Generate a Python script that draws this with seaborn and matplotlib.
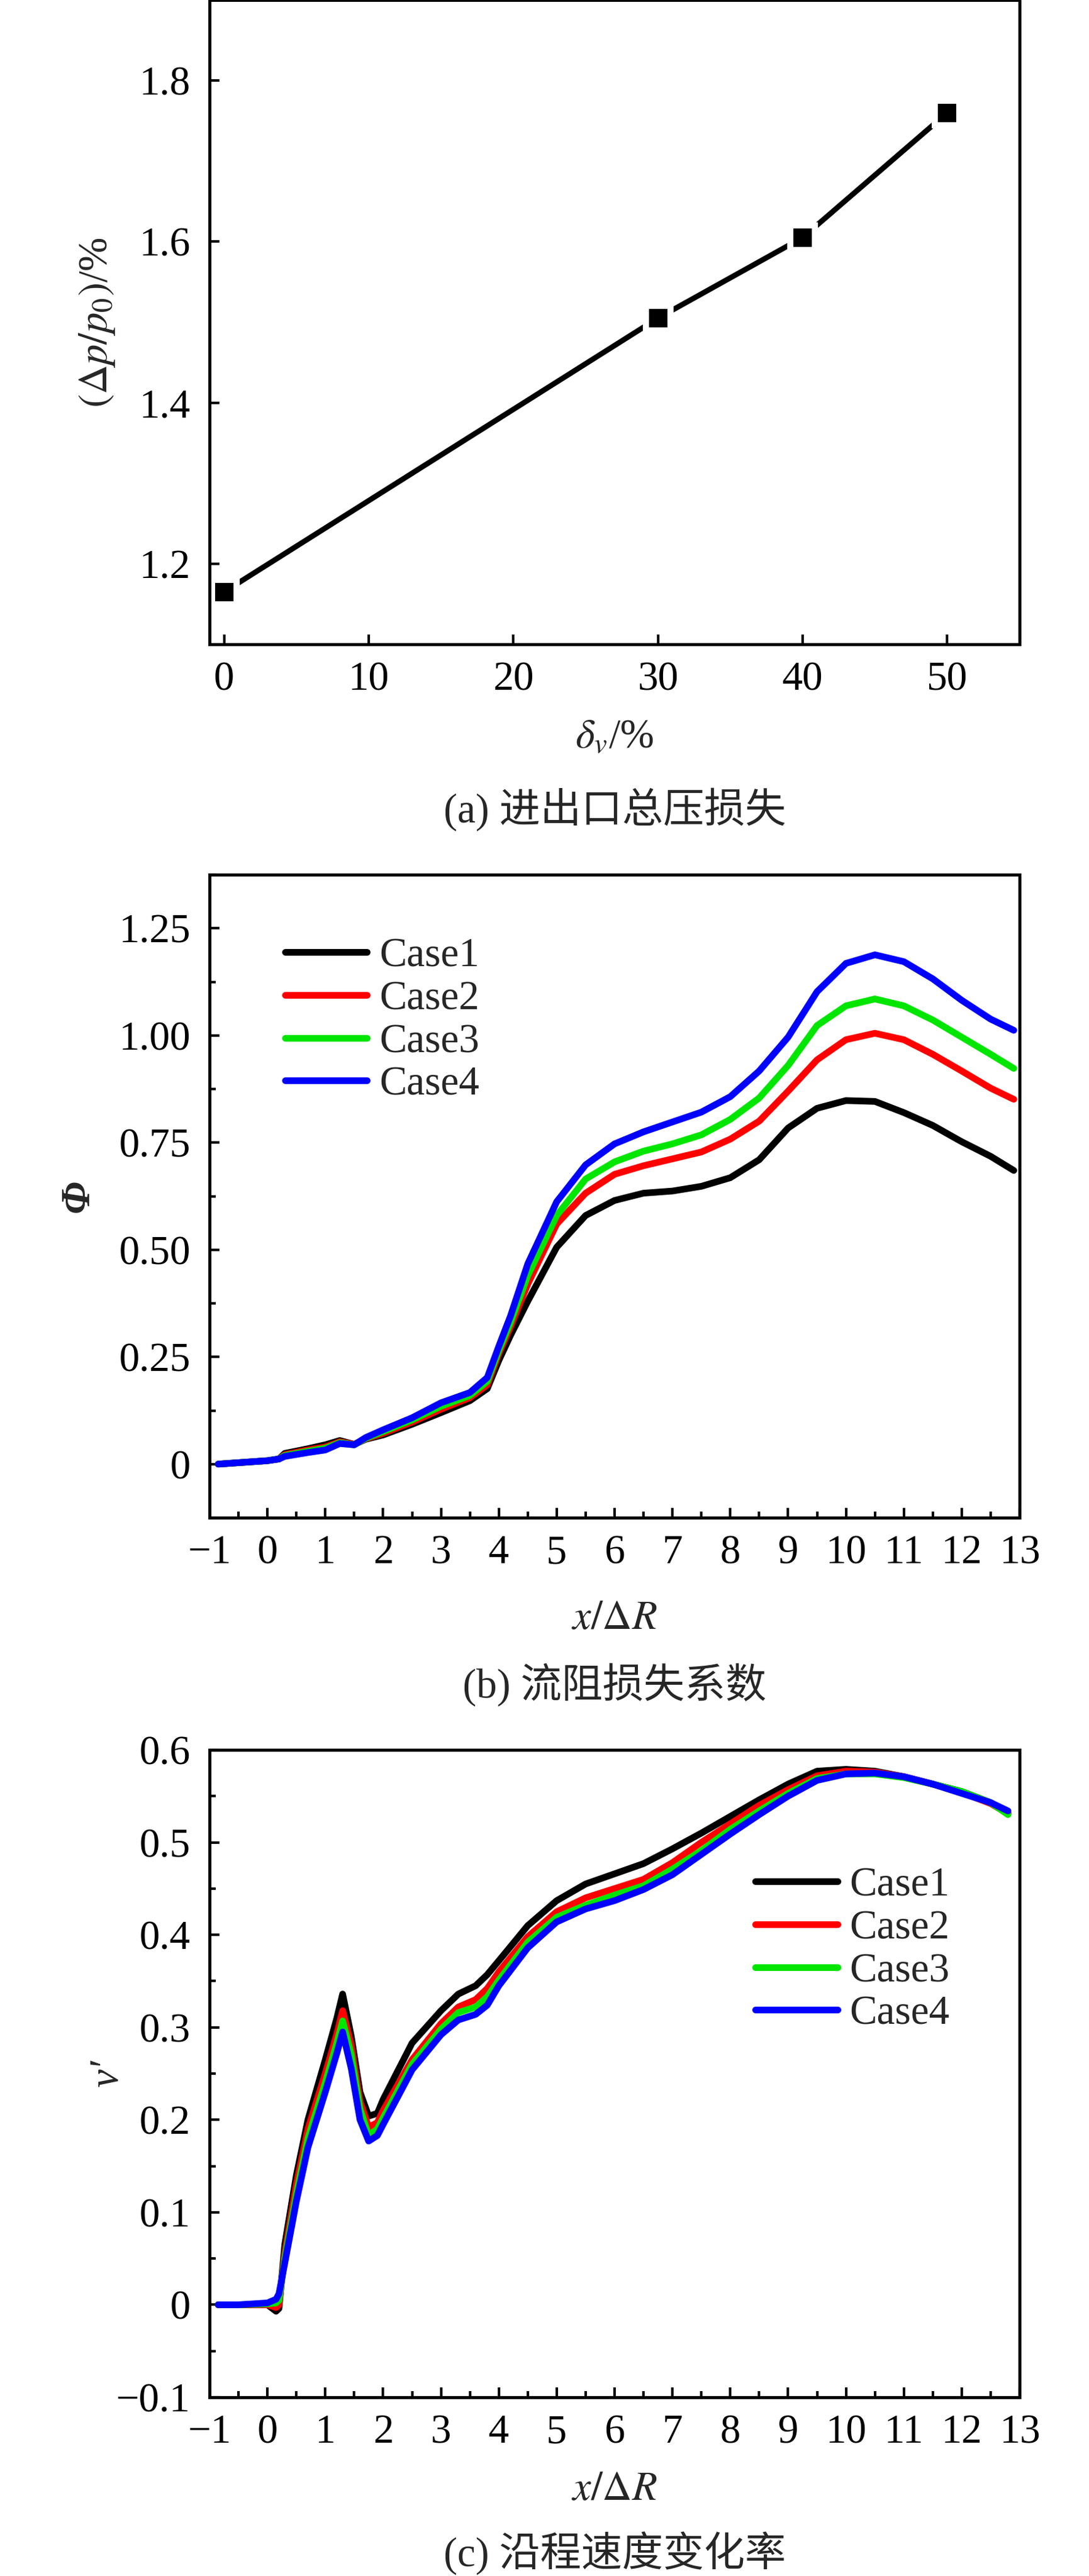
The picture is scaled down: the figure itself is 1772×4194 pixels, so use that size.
import matplotlib
matplotlib.use("Agg")
import matplotlib.pyplot as plt
import matplotlib.ticker as mticker
import seaborn as sns
import pandas as pd
import numpy as np

# (a) 进出口总压损失
delta_v = [0, 30, 40, 50]
dp_loss = [1.165, 1.505, 1.605, 1.76]

# (b) 流阻损失系数
xb = [-0.85, 0.0, 0.2, 0.3, 0.7, 1.0, 1.25, 1.5, 1.7, 2.0, 2.5, 3.0, 3.5, 3.8,
      4.0, 4.2, 4.5, 5.0, 5.5, 6.0, 6.5, 7.0, 7.5, 8.0, 8.5, 9.0, 9.5, 10.0,
      10.5, 11.0, 11.5, 12.0, 12.5, 12.9]
phi_case1 = [0, 0.008, 0.012, 0.025, 0.036, 0.045, 0.055, 0.046, 0.058, 0.068,
             0.093, 0.12, 0.148, 0.176, 0.242, 0.30, 0.38, 0.506, 0.58, 0.615,
             0.632, 0.637, 0.648, 0.668, 0.71, 0.784, 0.83, 0.848, 0.846, 0.82,
             0.79, 0.752, 0.718, 0.685]
phi_case2 = [0, 0.008, 0.012, 0.022, 0.033, 0.04, 0.052, 0.046, 0.059, 0.072,
             0.098, 0.128, 0.155, 0.185, 0.258, 0.32, 0.42, 0.56, 0.632, 0.676,
             0.696, 0.712, 0.728, 0.758, 0.80, 0.87, 0.943, 0.99, 1.005, 0.99,
             0.956, 0.917, 0.877, 0.851]
phi_case3 = [0, 0.008, 0.012, 0.02, 0.03, 0.037, 0.05, 0.045, 0.06, 0.076,
             0.103, 0.135, 0.16, 0.193, 0.265, 0.33, 0.44, 0.58, 0.665, 0.705,
             0.73, 0.747, 0.768, 0.804, 0.854, 0.93, 1.023, 1.069, 1.085, 1.069,
             1.036, 0.996, 0.956, 0.923]
phi_case4 = [0, 0.008, 0.012, 0.018, 0.027, 0.033, 0.048, 0.045, 0.062, 0.08,
             0.108, 0.143, 0.167, 0.202, 0.275, 0.345, 0.467, 0.612, 0.698, 0.747,
             0.775, 0.798, 0.821, 0.857, 0.917, 0.996, 1.102, 1.168, 1.188, 1.172,
             1.132, 1.082, 1.038, 1.012]

# (c) 沿程速度变化率
xc = [-0.85, -0.5, 0.0, 0.15, 0.2, 0.3, 0.5, 0.7, 1.0, 1.2, 1.3, 1.45, 1.6,
      1.75, 1.9, 2.0, 2.5, 3.0, 3.3, 3.6, 3.8, 4.0, 4.5, 5.0, 5.5, 6.0, 6.5,
      7.0, 7.5, 8.0, 8.5, 9.0, 9.5, 10.0, 10.5, 11.0, 11.5, 12.0, 12.5, 12.8]
v_case1 = [0, 0, 0.0, -0.007, -0.004, 0.065, 0.14, 0.2, 0.265, 0.31, 0.336,
           0.29, 0.23, 0.204, 0.207, 0.222, 0.283, 0.318, 0.336, 0.345, 0.357,
           0.372, 0.41, 0.437, 0.455, 0.466, 0.477, 0.493, 0.51, 0.528, 0.546,
           0.563, 0.577, 0.579, 0.577, 0.571, 0.563, 0.555, 0.543, 0.532]
v_case2 = [0, 0, 0.0, -0.003, 0.0, 0.055, 0.13, 0.19, 0.25, 0.293, 0.318,
           0.28, 0.22, 0.192, 0.197, 0.21, 0.265, 0.304, 0.322, 0.33, 0.342,
           0.36, 0.398, 0.425, 0.44, 0.45, 0.46, 0.478, 0.5, 0.52, 0.54,
           0.557, 0.572, 0.577, 0.576, 0.571, 0.563, 0.554, 0.542, 0.531]
v_case3 = [0, 0, 0.001, 0.002, 0.005, 0.05, 0.12, 0.18, 0.24, 0.283, 0.307,
           0.27, 0.212, 0.183, 0.19, 0.202, 0.26, 0.298, 0.316, 0.322, 0.333,
           0.351, 0.392, 0.419, 0.432, 0.443, 0.453, 0.471, 0.491, 0.514, 0.534,
           0.553, 0.569, 0.574, 0.574, 0.57, 0.563, 0.555, 0.543, 0.53]
v_case4 = [0, 0, 0.002, 0.006, 0.012, 0.045, 0.112, 0.17, 0.23, 0.272, 0.295,
           0.255, 0.2, 0.177, 0.183, 0.195, 0.254, 0.292, 0.308, 0.314, 0.324,
           0.345, 0.386, 0.414, 0.428, 0.437, 0.449, 0.465, 0.487, 0.509, 0.53,
           0.55, 0.567, 0.574, 0.575, 0.571, 0.563, 0.553, 0.543, 0.534]

case_names = ["Case1", "Case2", "Case3", "Case4"]
case_colors = ["#000000", "#ff0000", "#00e600", "#0000ff"]

sns.set_theme(style="ticks")
plt.rcParams["font.family"] = ["Liberation Serif", "Noto Sans CJK SC", "DejaVu Sans"]
plt.rcParams["mathtext.fontset"] = "stix"
plt.rcParams["axes.linewidth"] = 1.2
plt.rcParams["axes.unicode_minus"] = True

FS = 16
LW = 2.6


def long_df(x, series):
    parts = []
    for name, ys in zip(case_names, series):
        parts.append(pd.DataFrame({"x": x, "y": ys, "case": name}))
    return pd.concat(parts, ignore_index=True)


def style_axis(ax):
    for s in ax.spines.values():
        s.set_linewidth(1.2)
        s.set_color("black")
    ax.tick_params(which="both", direction="in", top=False, right=False,
                   width=1.0, colors="black")
    ax.tick_params(which="major", length=3.8, labelsize=FS)
    ax.tick_params(which="minor", length=2.4)
    ax.tick_params(axis="x", which="major", pad=6.5)
    ax.tick_params(axis="y", which="major", pad=7.5)
    ax.set_facecolor("white")


def place_labels(ax, xy, yx):
    ax.xaxis.label.set_va("center")
    ax.yaxis.label.set_va("center")
    ax.xaxis.set_label_coords(0.5, xy)
    ax.yaxis.set_label_coords(yx, 0.5)


def set_legend(ax, anchor):
    sns.move_legend(ax, "center left", bbox_to_anchor=anchor, title=None,
                    frameon=False, fontsize=FS, handlelength=2.0,
                    handletextpad=0.3, labelspacing=0.13, borderpad=0,
                    borderaxespad=0)
    for ln in ax.get_legend().get_lines():
        ln.set_linewidth(LW)


W, H = 1772, 4194
fig = plt.figure(figsize=(W / 300, H / 300), dpi=300)
fig.patch.set_facecolor("white")
left = 341 / W
width = 1318 / W
center_x = (341 + 659) / W

# ---- (a)
ax1 = fig.add_axes([left, 1 - 1049 / H, width, 1049 / H])
sns.lineplot(x=delta_v, y=dp_loss, ax=ax1, color="black", lw=2.1,
             marker="s", markersize=9.5, markeredgecolor="white",
             markeredgewidth=2.4)
ax1.set_xlim(-1, 55)
ax1.set_ylim(1.1, 1.9)
ax1.set_xticks([0, 10, 20, 30, 40, 50])
ax1.set_yticks([1.2, 1.4, 1.6, 1.8])
ax1.yaxis.set_major_formatter(mticker.FuncFormatter(lambda v, p: f"{v:.1f}"))
style_axis(ax1)
ax1.set_xlabel(r"$\delta_v$/%", fontsize=FS)
ax1.set_ylabel(r"$(\Delta p/p_0)$/%", fontsize=FS)
place_labels(ax1, -0.145, -0.139)
fig.text(center_x, 1 - 1318 / H, "(a) 进出口总压损失", ha="center", va="center",
         fontsize=FS)

# ---- (b)
ax2 = fig.add_axes([left, 1 - 2471 / H, width, 1047 / H])
sns.lineplot(data=long_df(xb, [phi_case1, phi_case2, phi_case3, phi_case4]),
             x="x", y="y", hue="case", palette=case_colors, lw=LW, ax=ax2)
ax2.set_xlim(-1, 13)
ax2.set_ylim(-0.125, 1.375)
ax2.xaxis.set_major_locator(mticker.MultipleLocator(1))
ax2.xaxis.set_minor_locator(mticker.MultipleLocator(0.5))
ax2.set_yticks([0, 0.25, 0.5, 0.75, 1.0, 1.25])
ax2.yaxis.set_minor_locator(mticker.FixedLocator(
    [-0.125, 0.125, 0.375, 0.625, 0.875, 1.125, 1.375]))
ax2.yaxis.set_major_formatter(mticker.FuncFormatter(
    lambda v, p: "0" if abs(v) < 1e-9 else f"{v:.2f}"))
style_axis(ax2)
ax2.set_xlabel(r"$x/\Delta R$", fontsize=FS)
ax2.set_ylabel("Φ", fontsize=FS, fontstyle="italic", fontweight="bold")
place_labels(ax2, -0.157, -0.162)
set_legend(ax2, (0.093, 0.773))
fig.text(center_x, 1 - 2743 / H, "(b) 流阻损失系数", ha="center", va="center",
         fontsize=FS)

# ---- (c)
ax3 = fig.add_axes([left, 1 - 3903 / H, width, 1054 / H])
sns.lineplot(data=long_df(xc, [v_case1, v_case2, v_case3, v_case4]),
             x="x", y="y", hue="case", palette=case_colors, lw=LW, ax=ax3)
ax3.set_xlim(-1, 13)
ax3.set_ylim(-0.1, 0.6)
ax3.xaxis.set_major_locator(mticker.MultipleLocator(1))
ax3.xaxis.set_minor_locator(mticker.MultipleLocator(0.5))
ax3.yaxis.set_major_locator(mticker.MultipleLocator(0.1))
ax3.yaxis.set_minor_locator(mticker.MultipleLocator(0.05))
ax3.yaxis.set_major_formatter(mticker.FuncFormatter(
    lambda v, p: "0" if abs(v) < 1e-9 else f"{v:.1f}".replace("-", "\u2212")))
style_axis(ax3)
ax3.set_xlabel(r"$x/\Delta R$", fontsize=FS)
ax3.set_ylabel("v\u2032", fontsize=FS, fontstyle="italic")
place_labels(ax3, -0.143, -0.126)
set_legend(ax3, (0.674, 0.691))
fig.text(center_x, 1 - 4157 / H, "(c) 沿程速度变化率", ha="center", va="center",
         fontsize=FS)

fig.savefig("out.png", dpi=300, facecolor="white")
